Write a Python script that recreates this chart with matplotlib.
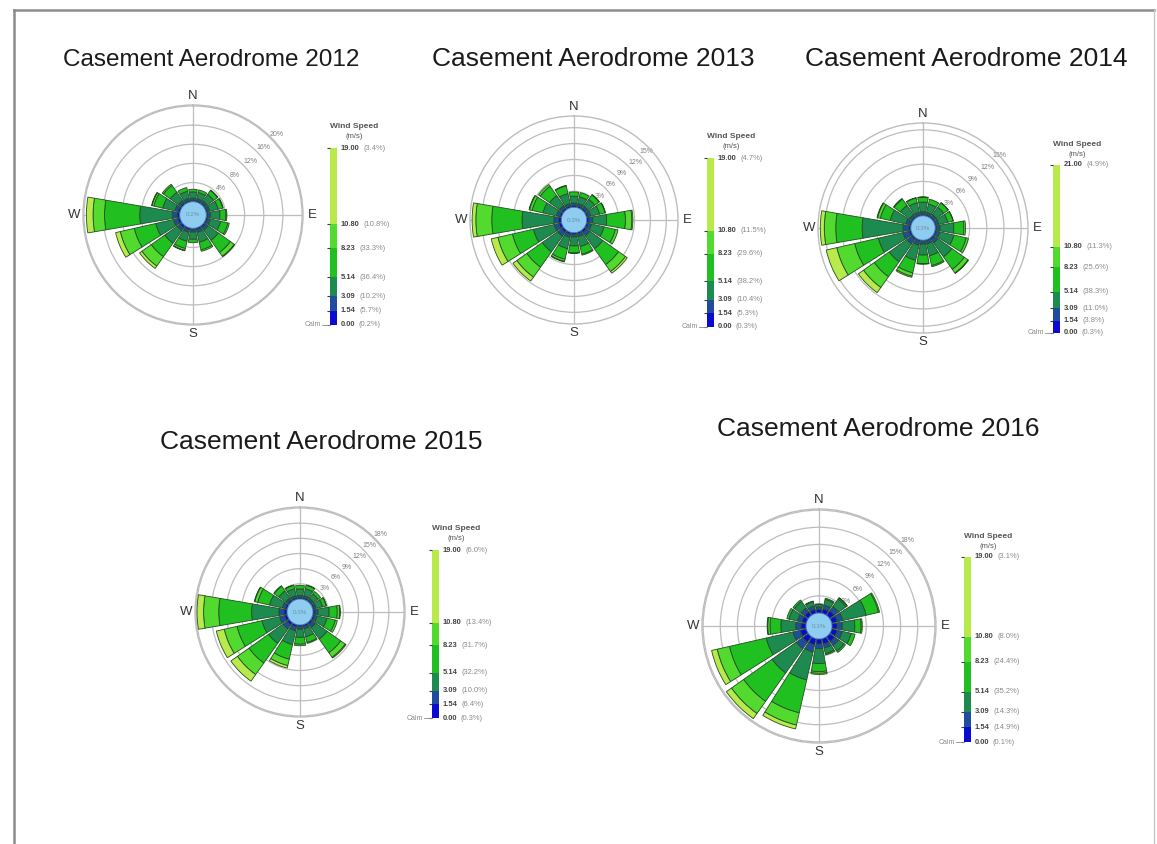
import matplotlib
matplotlib.use("Agg")
import matplotlib.pyplot as plt
import numpy as np
from matplotlib.colors import ListedColormap, BoundaryNorm
from matplotlib.patches import Circle
from matplotlib.lines import Line2D
import matplotlib.colorbar as mcolorbar

plt.rcParams["font.family"] = ["Liberation Sans", "DejaVu Sans"]

W, H = 1157, 844

DIRECTIONS = ["N", "NNE", "NE", "ENE", "E", "ESE", "SE", "SSE",
              "S", "SSW", "SW", "WSW", "W", "WNW", "NW", "NNW"]
SPEED_EDGES = [0.00, 1.54, 3.09, 5.14, 8.23, 10.80]
SPEED_COLORS = ["#0a0ad2", "#1f4c9e", "#1d8a50", "#21c021", "#52da2e", "#b8ea4c"]

# frequency (%) per direction, one row per speed class (lowest first)
freq_2012 = [
    [.30, .30, .30, .30, .30, .35, .40, .35, .30, .35, .45, .50, .55, .40, .35, .30],
    [.45, .45, .50, .50, .55, .60, .70, .60, .50, .60, .80, .90, 1.0, .70, .60, .50],
    [1.3, 1.3, 1.7, 1.8, 2.0, 2.2, 2.6, 2.1, 1.5, 1.9, 3.2, 3.8, 6.8, 2.6, 2.1, 1.5],
    [.55, .55, 1.0, 1.0, 1.25, 1.55, 3.1, 1.65, .70, 1.55, 3.45, 4.6, 7.35, 1.9, 1.75, .80],
    [0.0, 0.0, .10, .10, .20, .30, 1.0, .30, 0.0, .40, 2.4, 3.0, 2.4, .40, .30, 0.0],
    [0.0, 0.0, 0.0, 0.0, 0.0, 0.0, .10, 0.0, 0.0, .10, .60, 1.0, 1.4, .10, 0.0, 0.0],
]
freq_2013 = [
    [.30, .30, .30, .30, .40, .35, .45, .30, .30, .35, .45, .50, .50, .35, .35, .30],
    [.50, .50, .50, .55, .75, .65, .80, .55, .50, .60, .90, .95, .90, .65, .60, .50],
    [1.3, 1.3, 1.6, 1.7, 2.6, 2.4, 3.0, 1.9, 1.7, 2.2, 3.6, 4.0, 6.0, 2.6, 2.3, 1.9],
    [.80, .80, 1.0, 1.05, 3.55, 2.2, 3.65, 1.45, 1.3, 2.05, 3.55, 4.05, 5.7, 2.1, 2.15, 1.5],
    [0.0, 0.0, .10, .10, 1.2, .50, 1.6, .20, .10, .40, 2.3, 2.8, 3.0, .50, .40, .10],
    [0.0, 0.0, 0.0, 0.0, .20, 0.0, .40, 0.0, 0.0, .10, .90, 1.3, .70, .10, 0.0, 0.0],
]
freq_2014 = [
    [.20, .20, .20, .20, .25, .25, .30, .20, .20, .25, .30, .35, .35, .25, .20, .20],
    [.50, .45, .50, .50, .60, .65, .75, .55, .50, .70, 1.0, 1.1, 1.0, .70, .50, .50],
    [1.7, 1.5, 1.6, 1.6, 2.4, 2.5, 3.0, 2.1, 1.9, 2.7, 3.8, 4.4, 7.15, 2.8, 2.0, 1.7],
    [.85, .85, .95, .95, 1.75, 2.2, 2.65, 1.75, 1.5, 2.25, 3.2, 4.25, 4.6, 1.75, 1.35, .85],
    [.05, 0.0, .05, .05, .30, .40, .80, .20, .10, .60, 2.3, 3.2, 2.0, .50, .15, .05],
    [0.0, 0.0, 0.0, 0.0, 0.0, 0.0, .10, 0.0, 0.0, .20, 1.1, 1.9, .70, .10, 0.0, 0.0],
]
freq_2015 = [
    [.30, .30, .30, .30, .40, .35, .45, .35, .35, .45, .55, .55, .60, .40, .35, .30],
    [.40, .45, .40, .40, .60, .55, .75, .50, .50, .80, 1.0, 1.0, 1.0, .60, .50, .45],
    [1.3, 1.4, 1.1, 1.3, 2.2, 2.0, 2.8, 1.6, 1.6, 2.8, 3.5, 3.6, 5.4, 2.6, 1.7, 1.4],
    [.70, .70, .60, .75, 1.6, 1.7, 3.3, 1.15, 1.35, 2.95, 4.75, 5.05, 6.5, 2.4, 1.15, .70],
    [0.0, .05, 0.0, .05, .50, .40, 1.1, .20, .30, 1.3, 2.8, 2.6, 3.0, .60, .10, .05],
    [0.0, 0.0, 0.0, 0.0, .10, 0.0, .20, 0.0, 0.0, .50, 1.6, 1.6, 1.3, .10, 0.0, 0.0],
]
freq_2016 = [
    [.60, .80, 1.0, 1.0, .90, 1.0, 1.1, 1.0, .90, 1.1, 1.2, 1.1, .90, .80, .80, .70],
    [.50, .70, .90, 1.0, .90, .90, .80, .70, .80, 1.3, 1.4, 1.3, .90, .80, .80, .60],
    [.40, 1.0, 1.6, 4.2, 2.2, 1.6, 1.2, 1.0, 2.6, 5.0, 5.2, 4.8, 2.6, 1.5, 1.4, .80],
    [.10, .20, .25, 2.2, 1.1, .70, .30, .20, 1.4, 5.9, 6.1, 6.6, 1.9, .40, .30, .10],
    [0.0, 0.0, .05, .20, .20, 0.0, 0.0, 0.0, .30, 2.2, 2.6, 2.2, .40, 0.0, 0.0, 0.0],
    [0.0, 0.0, 0.0, 0.0, 0.0, 0.0, 0.0, 0.0, .20, .70, 1.1, 1.0, .10, 0.0, 0.0, 0.0],
]

calm = {2012: 0.2, 2013: 0.3, 2014: 0.3, 2015: 0.3, 2016: 0.1}
top_speed = {2012: 19.00, 2013: 19.00, 2014: 21.00, 2015: 19.00, 2016: 19.00}
# legend percentages, top boundary first, calms last
legend_pct = {
    2012: [3.4, 10.8, 33.3, 36.4, 10.2, 5.7, 0.2],
    2013: [4.7, 11.5, 29.6, 38.2, 10.4, 5.3, 0.3],
    2014: [4.9, 11.3, 25.6, 38.3, 11.0, 3.8, 0.3],
    2015: [6.0, 13.4, 31.7, 32.2, 10.0, 6.4, 0.3],
    2016: [3.1, 8.0, 24.4, 35.2, 14.3, 14.9, 0.1],
}
rings = {
    2012: [4, 8, 12, 16, 20],
    2013: [3, 6, 9, 12, 15],
    2014: [3, 6, 9, 12, 15],
    2015: [3, 6, 9, 12, 15, 18],
    2016: [3, 6, 9, 12, 15, 18],
}
freqs = {2012: freq_2012, 2013: freq_2013, 2014: freq_2014,
         2015: freq_2015, 2016: freq_2016}

# pixel layout: rose centre, frame radius, calm radius, frame value,
# colorbar (left, top, bottom), title (left, baseline, size)
layout = {
    2012: dict(c=(193, 215), R=110, r0=13.3, rmax=20.2, cb=(330, 148, 325), t=(63, 66, 17.5)),
    2013: dict(c=(574, 220), R=104, r0=12.7, rmax=17.2, cb=(707, 158, 327), t=(432, 66, 19)),
    2014: dict(c=(923, 228), R=105, r0=12.2, rmax=16.2, cb=(1053, 165, 333), t=(805, 66, 19)),
    2015: dict(c=(300, 612), R=105, r0=13.0, rmax=18.2, cb=(432, 550, 718), t=(160, 449, 19)),
    2016: dict(c=(819, 626), R=117, r0=13.0, rmax=18.2, cb=(964, 557, 742), t=(717, 436, 19)),
}

GRID = "#bdbdbd"
EDGE = "#234d23"


def fx(x):
    return x / W


def fy(y):
    return 1 - y / H


def draw_rose(fig, year):
    lay = layout[year]
    cx, cy = lay["c"]
    R, r0, rmax = lay["R"], lay["r0"], lay["rmax"]
    ax = fig.add_axes([fx(cx - R), fy(cy + R), 2 * R / W, 2 * R / H],
                      projection="polar")
    ax.set_theta_zero_location("N")
    ax.set_theta_direction(-1)
    ax.set_ylim(0, rmax)
    ax.set_rorigin(-rmax * r0 / (R - r0))
    ax.set_axisbelow(True)

    theta = np.deg2rad(np.arange(16) * 22.5)
    width = np.deg2rad(22.5) * 0.86
    bottom = np.zeros(16)
    for vals, col in zip(freqs[year], SPEED_COLORS):
        vals = np.asarray(vals)
        m = vals > 0
        ax.bar(theta[m], vals[m], width=width, bottom=bottom[m], color=col,
               edgecolor=EDGE, linewidth=0.6, zorder=2)
        bottom += vals

    ax.set_thetagrids([0, 90, 180, 270], labels=["N", "E", "S", "W"],
                      fontsize=9.5, color="#333333")
    ax.tick_params(axis="x", pad=-4)
    ax.set_rgrids(rings[year], labels=[f"{v}%" for v in rings[year]],
                  angle=45, fontsize=5, color="#808080")
    ax.grid(color=GRID, linewidth=0.9)
    ax.spines["polar"].set_edgecolor(GRID)
    ax.spines["polar"].set_linewidth(1.0)
    ax.spines["inner"].set_edgecolor("none")

    frac = 0.5 * r0 / R
    ax.add_patch(Circle((0.5, 0.5), frac, transform=ax.transAxes,
                        facecolor="#8fcdf0", edgecolor="#3a63c8", linewidth=0.6,
                        zorder=4, clip_on=False))
    ax.text(0.5, 0.5, f"{calm[year]}%", transform=ax.transAxes, ha="center",
            va="center", fontsize=4.5, color="#6f8fa8", zorder=5)


def draw_legend(fig, year):
    left, top, bot = layout[year]["cb"]
    bw = 7
    bounds = SPEED_EDGES + [top_speed[year]]
    cax = fig.add_axes([fx(left), fy(bot), bw / W, (bot - top) / H])
    cmap = ListedColormap(SPEED_COLORS)
    norm = BoundaryNorm(bounds, cmap.N)
    cb = mcolorbar.ColorbarBase(cax, cmap=cmap, norm=norm, boundaries=bounds,
                                spacing="proportional", ticks=bounds)
    cb.outline.set_visible(False)
    cax.yaxis.set_ticks_position("left")
    cax.tick_params(axis="y", length=2, width=0.8, color="#3a3a3a",
                    labelleft=False, labelright=False)

    cxm = left + 24
    fig.text(fx(cxm), fy(top - 21), "Wind Speed", ha="center", va="center",
             fontsize=6, fontweight="bold", color="#555555")
    fig.text(fx(cxm), fy(top - 11), "(m/s)", ha="center", va="center",
             fontsize=5.5, color="#555555")

    pct = legend_pct[year]
    for b, p in zip(bounds[::-1], pct):
        ypx = bot - (b / bounds[-1]) * (bot - top)
        t = fig.text(fx(left + bw + 4), fy(ypx), f"{b:.2f}", ha="left",
                     va="center", fontsize=5.4, fontweight="bold", color="#444444")
        plt.annotate(f"({p}%)", xy=(1, 0.5), xycoords=t, xytext=(2.5, 0),
                     textcoords="offset points", ha="left", va="center",
                     fontsize=5.4, color="#8a8a8a", annotation_clip=False)

    fig.text(fx(left - 9), fy(bot), "Calm", ha="right", va="center",
             fontsize=5, color="#8a8a8a")
    fig.add_artist(Line2D([fx(left - 8), fx(left)], [fy(bot), fy(bot)],
                          color="#8a8a8a", linewidth=0.6))


fig = plt.figure(figsize=(W / 100, H / 100), dpi=100)

for year in [2012, 2013, 2014, 2015, 2016]:
    draw_rose(fig, year)
    draw_legend(fig, year)
    tx, ty, ts = layout[year]["t"]
    fig.text(fx(tx), fy(ty), f"Casement Aerodrome {year}", ha="left",
             va="baseline", fontsize=ts, color="#1a1a1a")

# slide frame
fig.add_artist(Line2D([fx(14), fx(14)], [0, fy(10)], color="#8c8c8c", linewidth=1.8))
fig.add_artist(Line2D([fx(14), fx(1154)], [fy(10), fy(10)], color="#8c8c8c", linewidth=1.8))
fig.add_artist(Line2D([fx(1154), fx(1154)], [0, fy(10)], color="#c8c8c8", linewidth=1.0))

fig.savefig("out.png", dpi=100)
